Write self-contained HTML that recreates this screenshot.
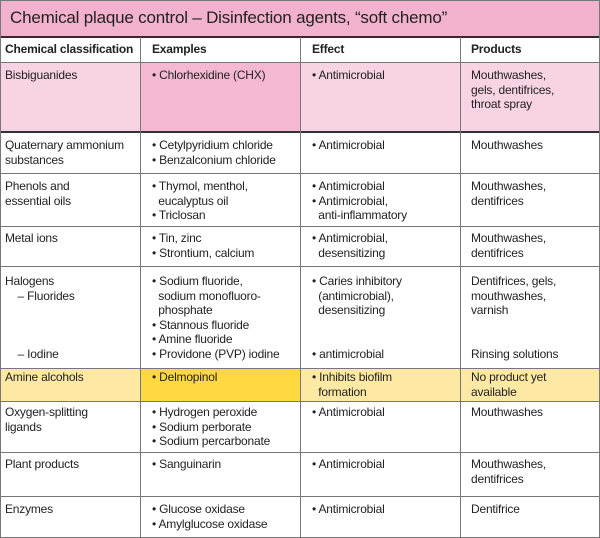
<!DOCTYPE html>
<html><head><style>
*{margin:0;padding:0;box-sizing:border-box}
body{width:600px;height:538px;overflow:hidden;background:#fff;position:relative;font-family:"Liberation Sans",sans-serif;font-size:12px;color:#222;letter-spacing:-0.2px}
.b{position:absolute}
.t{position:absolute;line-height:14.5px;white-space:nowrap}
.h{position:absolute;background:#777}
</style></head><body>
<div class="b" style="left:0;top:0;width:600px;height:37px;background:#f2b2cd"></div>
<div class="t" style="left:10px;top:8px;font-size:17px;line-height:20px;color:#222">Chemical plaque control – Disinfection agents, “soft chemo”</div>
<div class="b" style="left:0;top:62px;width:600px;height:70px;background:#f8d3e3"></div>
<div class="b" style="left:140px;top:62px;width:160px;height:70px;background:#f4b8d2"></div>
<div class="b" style="left:0;top:368px;width:600px;height:33px;background:#fde9a4"></div>
<div class="b" style="left:140px;top:368px;width:160px;height:33px;background:#fdd93f"></div>
<!-- lines -->
<div class="h" style="left:0;top:36px;width:600px;height:2px;background:#3a2430"></div>
<div class="h" style="left:0;top:62px;width:600px;height:1px"></div>
<div class="h" style="left:0;top:131px;width:600px;height:2px;background:#333"></div>
<div class="h" style="left:0;top:173px;width:600px;height:1px"></div>
<div class="h" style="left:0;top:226px;width:600px;height:1px"></div>
<div class="h" style="left:0;top:266px;width:600px;height:1px"></div>
<div class="h" style="left:0;top:368px;width:600px;height:1px"></div>
<div class="h" style="left:0;top:401px;width:600px;height:1px"></div>
<div class="h" style="left:0;top:452px;width:600px;height:1px"></div>
<div class="h" style="left:0;top:496px;width:600px;height:1px"></div>
<div class="h" style="left:0;top:537px;width:600px;height:1px"></div>
<div class="h" style="left:0;top:37px;width:1px;height:501px"></div>
<div class="h" style="left:599px;top:0;width:1px;height:538px"></div>
<div class="h" style="left:0;top:0;width:1px;height:37px"></div>
<div class="h" style="left:0;top:0;width:600px;height:1px"></div>
<div class="h" style="left:140px;top:37px;width:1px;height:501px"></div>
<div class="h" style="left:300px;top:37px;width:1px;height:501px"></div>
<div class="h" style="left:460px;top:37px;width:1px;height:501px"></div>
<!-- header -->
<div class="t" style="left:5px;top:42px;font-weight:bold">Chemical classification</div>
<div class="t" style="left:152px;top:42px;font-weight:bold">Examples</div>
<div class="t" style="left:312px;top:42px;font-weight:bold">Effect</div>
<div class="t" style="left:471px;top:42px;font-weight:bold">Products</div>
<!-- rows -->
<div class="t" style="left:5px;top:68px">Bisbiguanides</div>
<div class="t" style="left:152px;top:68px">• Chlorhexidine (CHX)</div>
<div class="t" style="left:312px;top:68px">• Antimicrobial</div>
<div class="t" style="left:471px;top:68px">Mouthwashes,<br>gels, dentifrices,<br>throat spray</div>

<div class="t" style="left:5px;top:138px">Quaternary ammonium<br>substances</div>
<div class="t" style="left:152px;top:138px">• Cetylpyridium chloride<br>• Benzalconium chloride</div>
<div class="t" style="left:312px;top:138px">• Antimicrobial</div>
<div class="t" style="left:471px;top:138px">Mouthwashes</div>

<div class="t" style="left:5px;top:179px">Phenols and<br>essential oils</div>
<div class="t" style="left:152px;top:179px">• Thymol, menthol,<br>&nbsp;&nbsp;eucalyptus oil<br>• Triclosan</div>
<div class="t" style="left:312px;top:179px">• Antimicrobial<br>• Antimicrobial,<br>&nbsp;&nbsp;anti-inflammatory</div>
<div class="t" style="left:471px;top:179px">Mouthwashes,<br>dentifrices</div>

<div class="t" style="left:5px;top:231px">Metal ions</div>
<div class="t" style="left:152px;top:231px">• Tin, zinc<br>• Strontium, calcium</div>
<div class="t" style="left:312px;top:231px">• Antimicrobial,<br>&nbsp;&nbsp;desensitizing</div>
<div class="t" style="left:471px;top:231px">Mouthwashes,<br>dentifrices</div>

<div class="t" style="left:5px;top:274px">Halogens<br>&nbsp;&nbsp;&nbsp;&nbsp;– Fluorides<br><br><br><br>&nbsp;&nbsp;&nbsp;&nbsp;– Iodine</div>
<div class="t" style="left:152px;top:274px">• Sodium fluoride,<br>&nbsp;&nbsp;sodium monofluoro-<br>&nbsp;&nbsp;phosphate<br>• Stannous fluoride<br>• Amine fluoride<br>• Providone (PVP) iodine</div>
<div class="t" style="left:312px;top:274px">• Caries inhibitory<br>&nbsp;&nbsp;(antimicrobial),<br>&nbsp;&nbsp;desensitizing<br><br><br>• antimicrobial</div>
<div class="t" style="left:471px;top:274px">Dentifrices, gels,<br>mouthwashes,<br>varnish<br><br><br>Rinsing solutions</div>

<div class="t" style="left:5px;top:370px">Amine alcohols</div>
<div class="t" style="left:152px;top:370px">• Delmopinol</div>
<div class="t" style="left:312px;top:370px">• Inhibits biofilm<br>&nbsp;&nbsp;formation</div>
<div class="t" style="left:471px;top:370px">No product yet<br>available</div>

<div class="t" style="left:5px;top:405px">Oxygen-splitting<br>ligands</div>
<div class="t" style="left:152px;top:405px">• Hydrogen peroxide<br>• Sodium perborate<br>• Sodium percarbonate</div>
<div class="t" style="left:312px;top:405px">• Antimicrobial</div>
<div class="t" style="left:471px;top:405px">Mouthwashes</div>

<div class="t" style="left:5px;top:457px">Plant products</div>
<div class="t" style="left:152px;top:457px">• Sanguinarin</div>
<div class="t" style="left:312px;top:457px">• Antimicrobial</div>
<div class="t" style="left:471px;top:457px">Mouthwashes,<br>dentifrices</div>

<div class="t" style="left:5px;top:502px">Enzymes</div>
<div class="t" style="left:152px;top:502px">• Glucose oxidase<br>• Amylglucose oxidase</div>
<div class="t" style="left:312px;top:502px">• Antimicrobial</div>
<div class="t" style="left:471px;top:502px">Dentifrice</div>
</body></html>
